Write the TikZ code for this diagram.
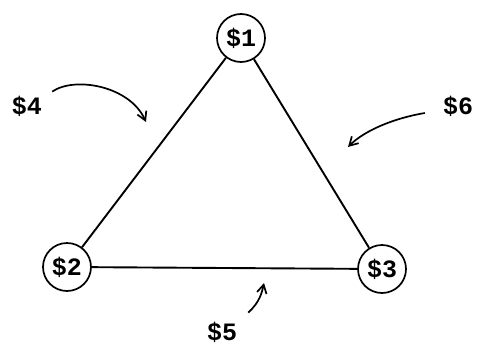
\documentclass[tikz,border=0pt]{standalone}
\usepackage{fontspec}
\setmonofont{Liberation Mono}
\usetikzlibrary{arrows.meta, positioning}
\tikzset{
  acct/.style={circle, draw, line width=1.7pt, minimum size=48pt, inner sep=0pt, font=\ttfamily\bfseries\fontsize{25}{25}\selectfont},
  lbl/.style={font=\ttfamily\bfseries\fontsize{25}{25}\selectfont, inner sep=1pt},
  side/.style={line width=1.9pt},
  arr/.style={-{Straight Barb[length=3mm, width=3.4mm]}, line width=1.7pt},
}

\begin{document}
\begin{tikzpicture}[x=1pt, y=-1pt]
\useasboundingbox (0,0) rectangle (478,345);
% the three corners
\node[acct] (n1) at (241,38) {\$1};
\node[acct] (n2) at (67,267) {\$2};
\node[acct] (n3) at (382,269) {\$3};
\draw[side] (n1) -- (n2);
\draw[side] (n1) -- (n3);
\draw[side] (n2) -- (n3);
% side labels
\node[lbl] (l4) at (27,106) {\$4};
\node[lbl] (l6) at (458,106) {\$6};
\node[lbl] (l5) at (222,332) {\$5};
\coordinate (t4) at (146,122);
\coordinate (t6) at (348,147);
\coordinate (t5) at (264,283);
\draw[arr] ([xshift=9pt,yshift=3pt]l4.north east) .. controls (75,76) and (130,86) .. (t4);
\draw[arr] ([xshift=-17pt,yshift=-7pt]l6.west) .. controls (395,118) and (365,130) .. (t6);
\draw[arr] ([xshift=10pt,yshift=8pt]l5.north east) .. controls (260,302) and (262,292) .. (t5);
\end{tikzpicture}
\end{document}
